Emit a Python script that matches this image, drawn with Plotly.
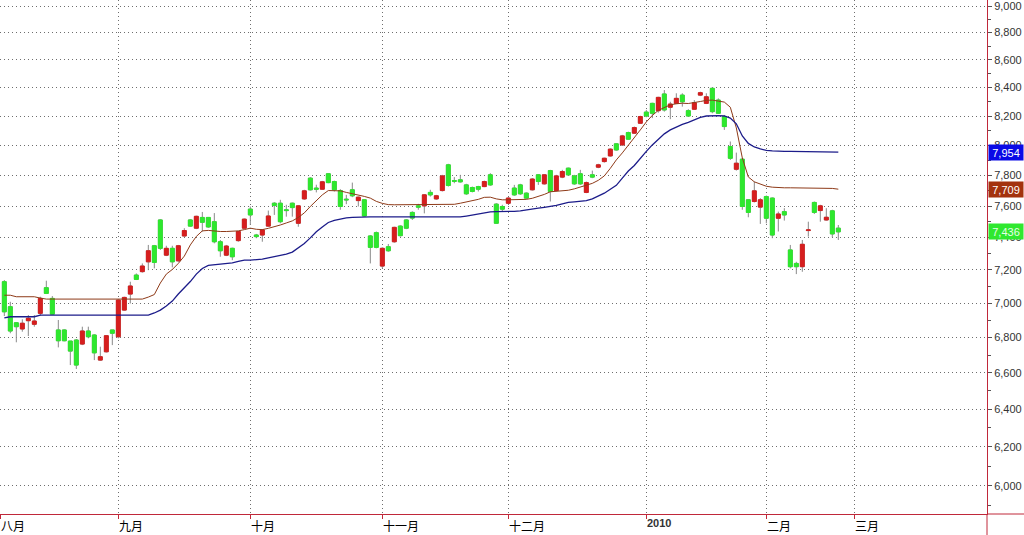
import math
import plotly.graph_objects as go

# ---------------- data (trading-day index 0..139, Aug 2009 - Feb 2010) ----------------
bar_index = list(range(140))

open_ = [7129, 6980, 6886, 6850, 6898, 6877, 6941, 7093, 7029, 6844,
         6844, 6780, 6786, 6763, 6838, 6815, 6672, 6719, 6844, 6805,
         6960, 7055, 7169, 7190, 7250, 7349, 7511, 7291, 7333, 7256,
         7410, 7511, 7459, 7527, 7527, 7500, 7374, 7291, 7333, 7381,
         7459, 7580, 7416, 7416, 7472, 7618, 7618, 7576, 7618, 7490,
         7646, 7781, 7716, 7709, 7810, 7759, 7700, 7644, 7705, 7635,
         7640, 7410, 7431, 7224, 7343, 7374, 7472, 7511, 7559, 7601,
         7601, 7688, 7646, 7700, 7869, 7765, 7770, 7737, 7720, 7726,
         7726, 7803, 7612, 7597, 7618, 7716, 7737, 7683, 7705, 7803,
         7744, 7831, 7700, 7788, 7847, 7796, 7810, 7688, 7803, 7854,
         7891, 7929, 8010, 8003, 8087, 8083, 8151, 8228, 8289, 8238,
         8355, 8262, 8289, 8347, 8238, 8248, 8347, 8289, 8395, 8312,
         8197, 7992, 7840, 7907, 7640, 7629, 7593, 7661, 7651, 7522,
         7564, 7323, 7240, 7220, 7444, 7623, 7571, 7511, 7569, 7459]

high = [7139, 7009, 6890, 6906, 6931, 6931, 7039, 7135, 7043, 6902,
        6848, 6780, 6792, 6863, 6863, 6819, 6748, 6815, 6844, 7023,
        7039, 7129, 7179, 7240, 7354, 7354, 7516, 7349, 7349, 7354,
        7459, 7516, 7538, 7562, 7530, 7555, 7385, 7354, 7337, 7442,
        7520, 7597, 7423, 7453, 7571, 7625, 7640, 7608, 7622, 7606,
        7705, 7788, 7738, 7763, 7814, 7765, 7709, 7672, 7752, 7661,
        7644, 7416, 7438, 7339, 7360, 7468, 7477, 7516, 7566, 7614,
        7677, 7705, 7672, 7803, 7876, 7788, 7803, 7744, 7726, 7731,
        7765, 7814, 7618, 7608, 7657, 7737, 7744, 7688, 7781, 7808,
        7808, 7836, 7803, 7836, 7851, 7803, 7836, 7759, 7831, 7876,
        7917, 7980, 8014, 8071, 8093, 8128, 8203, 8243, 8293, 8335,
        8383, 8300, 8360, 8360, 8248, 8312, 8371, 8360, 8402, 8324,
        8208, 8026, 7951, 7913, 7644, 7759, 7651, 7668, 7655, 7564,
        7586, 7354, 7250, 7385, 7500, 7629, 7608, 7586, 7576, 7479]

low = [6925, 6825, 6773, 6834, 6809, 6863, 6927, 7055, 6931, 6744,
       6779, 6644, 6622, 6757, 6796, 6672, 6668, 6715, 6757, 6796,
       6956, 6999, 7139, 7184, 7199, 7210, 7323, 7285, 7216, 7250,
       7406, 7467, 7453, 7437, 7461, 7364, 7281, 7285, 7260, 7374,
       7455, 7479, 7396, 7374, 7468, 7543, 7490, 7532, 7532, 7468,
       7640, 7700, 7688, 7705, 7748, 7694, 7576, 7612, 7657, 7597,
       7532, 7240, 7333, 7210, 7312, 7368, 7406, 7453, 7511, 7576,
       7553, 7661, 7640, 7694, 7726, 7748, 7752, 7672, 7688, 7694,
       7722, 7731, 7486, 7566, 7612, 7666, 7672, 7644, 7700, 7737,
       7739, 7629, 7696, 7781, 7796, 7737, 7737, 7683, 7781, 7847,
       7884, 7924, 7964, 7996, 8037, 8078, 8147, 8192, 8186, 8224,
       8231, 8179, 8284, 8266, 8197, 8243, 8340, 8284, 8220, 8215,
       8105, 7902, 7831, 7576, 7528, 7623, 7486, 7490, 7396, 7438,
       7507, 7210, 7175, 7189, 7406, 7549, 7500, 7507, 7402, 7385]

close = [6950, 6838, 6863, 6883, 6912, 6896, 7029, 7059, 6936, 6782,
         6782, 6723, 6644, 6838, 6805, 6713, 6691, 6811, 6825, 7019,
         7035, 7103, 7143, 7224, 7318, 7246, 7333, 7333, 7250, 7349,
         7444, 7472, 7534, 7496, 7467, 7374, 7318, 7347, 7281, 7438,
         7516, 7543, 7406, 7448, 7536, 7603, 7500, 7571, 7590, 7601,
         7698, 7705, 7709, 7757, 7752, 7705, 7597, 7640, 7666, 7657,
         7536, 7339, 7339, 7333, 7318, 7464, 7412, 7459, 7523, 7593,
         7672, 7672, 7666, 7796, 7733, 7761, 7757, 7679, 7694, 7709,
         7759, 7737, 7490, 7580, 7651, 7672, 7679, 7651, 7775, 7759,
         7803, 7694, 7796, 7825, 7803, 7744, 7744, 7752, 7788, 7869,
         7913, 7974, 7969, 8064, 8042, 8121, 8197, 8201, 8220, 8331,
         8243, 8284, 8324, 8300, 8201, 8293, 8364, 8335, 8231, 8220,
         8128, 7913, 7880, 7597, 7559, 7698, 7640, 7522, 7416, 7549,
         7543, 7220, 7220, 7358, 7448, 7559, 7601, 7528, 7423, 7436]

line_blue = [6914, 6921, 6921, 6921, 6921, 6921, 6931, 6931, 6931, 6931,
             6931, 6931, 6931, 6931, 6931, 6931, 6931, 6931, 6931, 6931,
             6931, 6931, 6931, 6931, 6931, 6943, 6960, 6984, 7013, 7055,
             7091, 7130, 7175, 7209, 7228, 7231, 7234, 7237, 7243, 7252,
             7260, 7260, 7263, 7266, 7274, 7282, 7291, 7297, 7310, 7335,
             7363, 7398, 7436, 7467, 7495, 7508, 7517, 7524, 7528, 7530,
             7530, 7530, 7530, 7530, 7530, 7530, 7530, 7530, 7530, 7530,
             7530, 7530, 7530, 7530, 7530, 7530, 7530, 7536, 7543, 7549,
             7556, 7562, 7564, 7564, 7564, 7566, 7569, 7576, 7582, 7586,
             7592, 7597, 7604, 7614, 7623, 7627, 7631, 7635, 7646, 7662,
             7683, 7709, 7734, 7781, 7828, 7865, 7915, 7959, 8003, 8044,
             8078, 8105, 8126, 8143, 8157, 8174, 8192, 8201, 8203, 8203,
             8201, 8186, 8147, 8064, 8013, 7989, 7976, 7966, 7962, 7959,
             7959, 7959, 7959, 7959, 7956, 7956, 7956, 7956, 7956, 7954]

line_brown = [7048, 7048, 7039, 7039, 7039, 7039, 7031, 7025, 7025, 7025,
              7025, 7025, 7025, 7025, 7025, 7025, 7025, 7025, 7025, 7025,
              7025, 7025, 7025, 7025, 7037, 7052, 7121, 7175, 7203, 7240,
              7285, 7354, 7407, 7442, 7445, 7441, 7438, 7438, 7438, 7442,
              7450, 7459, 7452, 7450, 7458, 7467, 7479, 7492, 7505, 7527,
              7556, 7597, 7637, 7672, 7700, 7700, 7698, 7688, 7680, 7673,
              7662, 7651, 7630, 7617, 7609, 7608, 7608, 7608, 7608, 7608,
              7608, 7608, 7608, 7608, 7608, 7611, 7618, 7627, 7633, 7643,
              7656, 7657, 7646, 7640, 7640, 7640, 7640, 7643, 7650, 7662,
              7675, 7692, 7695, 7697, 7702, 7711, 7724, 7736, 7747, 7767,
              7796, 7846, 7902, 7949, 7999, 8054, 8105, 8160, 8205, 8240,
              8262, 8279, 8286, 8290, 8288, 8293, 8302, 8310, 8312, 8305,
              8298, 8262, 8119, 7915, 7789, 7757, 7741, 7728, 7722, 7718,
              7718, 7718, 7718, 7718, 7714, 7714, 7714, 7714, 7714, 7709]

month_pos = [-0.72, 19, 41, 63, 84, 107, 127, 141.67]
month_labels = ["八月", "九月", "十月", "十一月", "十二月", "2010", "二月", "三月"]

y_major = [6000, 6200, 6400, 6600, 6800, 7000, 7200, 7400, 7600, 7800,
           8000, 8200, 8400, 8600, 8800, 9000]
y_major_text = ["6,000", "6,200", "6,400", "6,600", "6,800", "7,000", "7,200",
                "7,400", "7,600", "7,800", "8,000", "8,200", "8,400", "8,600",
                "8,800", "9,000"]
y_minor = [5900, 6100, 6300, 6500, 6700, 6900, 7100, 7300, 7500, 7700,
           7900, 8100, 8300, 8500, 8700, 8900]

# ---------------- styling ----------------
RED = "#d61e1e"
GREEN = "#2ee82e"
WICK = "#8a8a8a"
BLUE = "#1c1c8a"
BROWN = "#8e3a18"
AXIS = "#c0283a"
GRID = "#6e6e6e"

body_hi = [max(o, c) for o, c in zip(open_, close)]
body_lo = [min(o, c) for o, c in zip(open_, close)]

fig = go.Figure()

# wicks (grey)
fig.add_trace(go.Candlestick(
    x=bar_index, open=open_, high=high, low=low, close=close,
    increasing=dict(line=dict(color=WICK, width=1), fillcolor=WICK),
    decreasing=dict(line=dict(color=WICK, width=1), fillcolor=WICK),
    showlegend=False, hoverinfo="skip"))

# bodies (red = up, green = down)
fig.add_trace(go.Candlestick(
    x=bar_index, open=open_, high=body_hi, low=body_lo, close=close,
    increasing=dict(line=dict(color=RED, width=1), fillcolor=RED),
    decreasing=dict(line=dict(color=GREEN, width=1), fillcolor=GREEN),
    showlegend=False))

fig.add_trace(go.Scatter(x=bar_index, y=line_brown, mode="lines",
                         line=dict(color=BROWN, width=1), showlegend=False))
fig.add_trace(go.Scatter(x=bar_index, y=line_blue, mode="lines",
                         line=dict(color=BLUE, width=1.3), showlegend=False))

annotations = []
for pos, lab in zip(month_pos, month_labels):
    is_year = lab.isdigit()
    annotations.append(dict(
        x=pos, xref="x", y=0, yref="paper", yanchor="top", xanchor="left",
        text=f"<b>{lab}</b>" if is_year else lab, showarrow=False,
        yshift=-1, xshift=-1,
        font=dict(family="Liberation Sans" if is_year else "Noto Sans CJK SC",
                  size=11 if is_year else 12,
                  color="#333333" if is_year else "#000000")))

for val, bg, fg in [(line_blue[-1], "#0a0ae6", "#ffffff"),
                    (line_brown[-1], "#a3320e", "#ffffff"),
                    (close[-1], "#2fe82f", "#e6ffe6")]:
    annotations.append(dict(
        x=1, xref="paper", xanchor="left", xshift=1,
        y=math.log10(val), yref="y", yanchor="middle",
        text=f"{val:,.0f}", showarrow=False, bgcolor=bg,
        width=32, height=13, borderpad=1, align="center",
        font=dict(family="Liberation Sans", size=11, color=fg)))

shapes = [
    # axis lines extending into the margins
    dict(type="line", xref="paper", yref="paper", x0=1, x1=1, y0=0, y1=-0.05,
         line=dict(color=AXIS, width=1)),
    dict(type="line", xref="paper", yref="paper", x0=1, x1=1.05, y0=0, y1=0,
         line=dict(color=AXIS, width=1)),
]

fig.update_layout(
    width=1024, height=535,
    margin=dict(l=0, r=37, t=0, b=21),
    paper_bgcolor="white", plot_bgcolor="white",
    showlegend=False,
    boxgap=0.35, boxgroupgap=0,
    annotations=annotations, shapes=shapes,
    xaxis=dict(
        range=[-0.72, 163.78], rangeslider=dict(visible=False),
        tickmode="array", tickvals=month_pos, showticklabels=False,
        ticks="outside", ticklen=4, tickcolor=AXIS,
        showgrid=True, gridcolor=GRID, griddash="1px,3px", gridwidth=1,
        showline=True, linecolor=AXIS, linewidth=1, zeroline=False,
        fixedrange=True),
    yaxis=dict(
        type="log", side="right",
        range=[3.767753, 3.956446],
        tickmode="array", tickvals=y_major, ticktext=y_major_text,
        ticks="outside", ticklen=4, tickcolor="#555555",
        ticklabeloverflow="allow",
        minor=dict(tickmode="array", tickvals=y_minor, ticks="outside",
                   ticklen=3, tickcolor="#555555", showgrid=False),
        tickfont=dict(family="Liberation Sans", size=11, color="#333333"),
        showgrid=True, gridcolor=GRID, griddash="1px,3px", gridwidth=1,
        showline=True, linecolor=AXIS, linewidth=1, zeroline=False,
        fixedrange=True),
)

fig.write_html("out.html",
               config={"displayModeBar": False},
               post_script="document.body.style.margin='0';document.body.style.overflow='hidden';")
